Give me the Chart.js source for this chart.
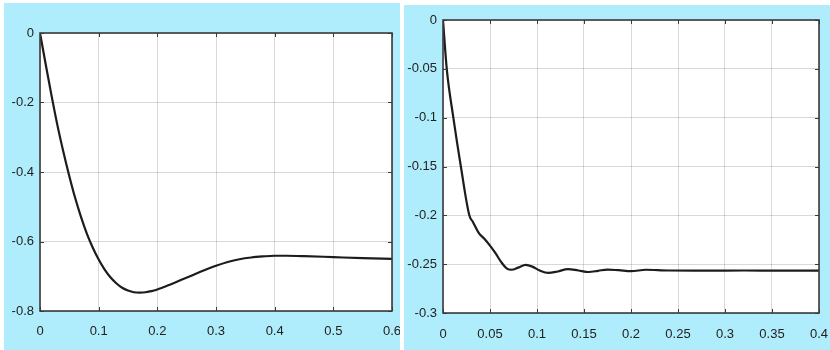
<!DOCTYPE html>
<html>
<head>
<meta charset="utf-8">
<script src="https://cdn.jsdelivr.net/npm/chart.js@4"></script>
<style>
  html, body { margin: 0; padding: 0; background: #fff; }
  body { width: 830px; height: 350px; position: relative; overflow: hidden; }
  .painel { position: absolute; background: #b0edfc; }
  #p1 { left: 4px; top: 3px; width: 396px; height: 347px; }
  #p2 { left: 404px; top: 5px; width: 426px; height: 345px; }
</style>
</head>
<body>
<div class="painel" id="p1"><canvas id="grafico1"></canvas></div>
<div class="painel" id="p2"><canvas id="grafico2"></canvas></div>
<script>
// dados
const tempo1 = [0, 0.01, 0.02, 0.03, 0.04, 0.05, 0.06, 0.07, 0.08, 0.09, 0.10, 0.11, 0.12, 0.13, 0.14, 0.15,
  0.16, 0.17, 0.18, 0.19, 0.20, 0.22, 0.24, 0.26, 0.28, 0.30, 0.32, 0.34, 0.36, 0.38, 0.40, 0.42, 0.45,
  0.50, 0.55, 0.60];
const resposta1 = [0, -0.093, -0.183, -0.268, -0.343, -0.412, -0.475, -0.530, -0.578, -0.618, -0.652,
  -0.680, -0.703, -0.720, -0.733, -0.741, -0.746, -0.747, -0.746, -0.743, -0.738, -0.725, -0.711, -0.697,
  -0.683, -0.670, -0.659, -0.651, -0.646, -0.643, -0.641, -0.641, -0.642, -0.645, -0.648, -0.650];

const tempo2 = [0, 0.004, 0.011, 0.019, 0.028, 0.032, 0.038, 0.044, 0.05, 0.056, 0.062, 0.068, 0.073,
  0.08, 0.088, 0.095, 0.103, 0.112, 0.122, 0.133, 0.144, 0.155, 0.165, 0.175, 0.187, 0.2, 0.216, 0.24,
  0.28, 0.32, 0.36, 0.4];
const resposta2 = [0, -0.05, -0.1, -0.15, -0.2, -0.207, -0.218, -0.224, -0.231, -0.239, -0.248, -0.2545,
  -0.2557, -0.2535, -0.2508, -0.2525, -0.2565, -0.259, -0.2575, -0.255, -0.2565, -0.258, -0.2568, -0.2555,
  -0.2562, -0.2572, -0.2557, -0.2565, -0.2566, -0.2565, -0.2566, -0.2566];

const ticksX1 = [0, 0.1, 0.2, 0.3, 0.4, 0.5, 0.6];
const ticksY1 = [0, -0.2, -0.4, -0.6, -0.8];
const ticksX2 = [0, 0.05, 0.1, 0.15, 0.2, 0.25, 0.3, 0.35, 0.4];
const ticksY2 = [0, -0.05, -0.1, -0.15, -0.2, -0.25, -0.3];

// fundo branco da area e moldura estilo matlab com marcas internas
const moldura = {
  id: 'moldura',
  beforeDraw(chart) {
    const { ctx, chartArea: a } = chart;
    ctx.save();
    ctx.fillStyle = '#fff';
    ctx.fillRect(a.left, a.top, a.right - a.left, a.bottom - a.top);
    ctx.restore();
  },
  afterDraw(chart) {
    const { ctx, chartArea: a, scales } = chart;
    ctx.save();
    ctx.strokeStyle = '#3a3a3a';
    ctx.lineWidth = 1;
    scales.x.ticks.forEach(t => {
      const px = Math.round(scales.x.getPixelForValue(t.value)) + 0.5;
      ctx.beginPath();
      ctx.moveTo(px, a.bottom); ctx.lineTo(px, a.bottom - 4);
      ctx.moveTo(px, a.top); ctx.lineTo(px, a.top + 4);
      ctx.stroke();
    });
    scales.y.ticks.forEach(t => {
      const py = Math.round(scales.y.getPixelForValue(t.value)) + 0.5;
      ctx.beginPath();
      ctx.moveTo(a.left, py); ctx.lineTo(a.left + 4, py);
      ctx.moveTo(a.right, py); ctx.lineTo(a.right - 4, py);
      ctx.stroke();
    });
    ctx.lineWidth = 1.6;
    ctx.strokeRect(a.left, a.top, a.right - a.left, a.bottom - a.top);
    ctx.restore();
  }
};

function criarGrafico(id, tempo, resposta, tx, ty, pad, larguraY) {
  const pontos = tempo.map((t, i) => ({ x: t, y: resposta[i] }));
  const fonte = { family: '"Liberation Sans", Arial, sans-serif', size: 13 };
  return new Chart(document.getElementById(id), {
    type: 'line',
    data: {
      datasets: [{
        data: pontos,
        borderColor: '#1c1c1c',
        borderWidth: 2.2,
        pointRadius: 0,
        cubicInterpolationMode: 'monotone',
        fill: false
      }]
    },
    options: {
      responsive: true,
      maintainAspectRatio: false,
      animation: false,
      layout: { autoPadding: false, padding: { top: pad.top, right: pad.right, bottom: 0, left: 0 } },
      plugins: { legend: { display: false }, tooltip: { enabled: false } },
      scales: {
        x: {
          type: 'linear',
          min: tx[0],
          max: tx[tx.length - 1],
          afterBuildTicks: s => { s.ticks = tx.map(v => ({ value: v })); },
          afterFit: s => { s.height = pad.xh; s.paddingLeft = 0; s.paddingRight = 0; },
          grid: { color: 'rgba(0,0,0,0.15)', drawTicks: false },
          border: { display: false },
          ticks: { color: '#222', font: fonte, padding: pad.xp, maxRotation: 0, callback: v => String(v) }
        },
        y: {
          min: ty[ty.length - 1],
          max: ty[0],
          afterBuildTicks: s => { s.ticks = ty.map(v => ({ value: v })); },
          afterFit: s => { s.width = larguraY; s.paddingTop = 0; s.paddingBottom = 0; },
          grid: { color: 'rgba(0,0,0,0.15)', drawTicks: false },
          border: { display: false },
          ticks: { color: '#222', font: fonte, padding: 6, callback: v => String(v) }
        }
      }
    },
    plugins: [moldura]
  });
}

criarGrafico('grafico1', tempo1, resposta1, ticksX1, ticksY1, { top: 30, right: 8, xh: 39, xp: 13 }, 36);
criarGrafico('grafico2', tempo2, resposta2, ticksX2, ticksY2, { top: 15, right: 11, xh: 37, xp: 14 }, 39);
</script>
</body>
</html>
